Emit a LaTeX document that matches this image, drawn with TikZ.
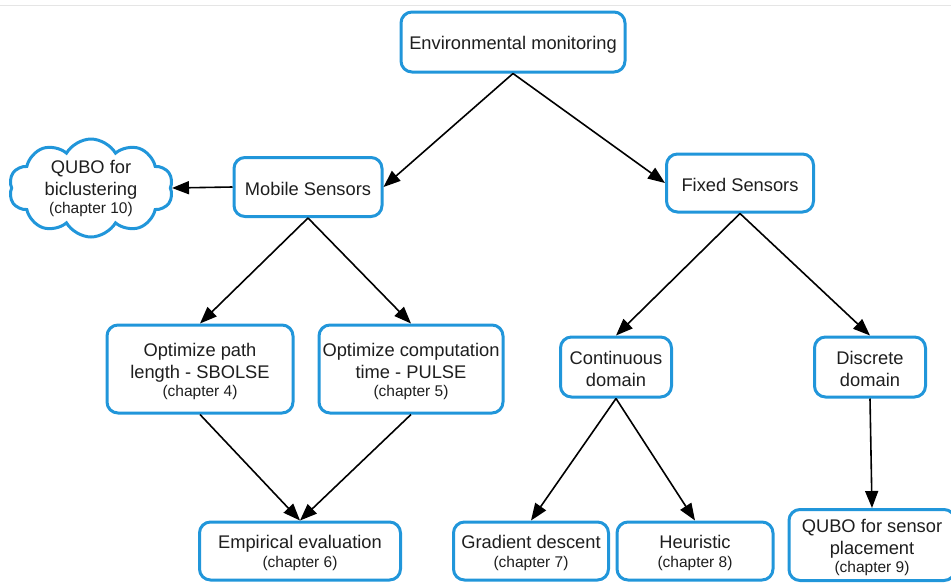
\documentclass[tikz,border=0pt]{standalone}
\usepackage{fontspec}
\setmainfont{Liberation Sans}
\usetikzlibrary{arrows.meta,shapes.symbols}
\definecolor{boxblue}{RGB}{33,150,218}
\definecolor{txt}{RGB}{30,30,30}
\newcommand{\chap}[1]{{\fontsize{15.5}{17}\selectfont #1}}
\newcommand{\tp}{\rule{0pt}{18pt}}
\tikzset{
  box/.style={draw=boxblue, line width=3pt, rounded corners=11pt, fill=white,
    align=center, text=txt, font=\fontsize{18.3}{22}\selectfont, inner sep=2pt},
  cloudbox/.style={cloud, draw=boxblue, line width=3pt, cloud puffs=10, cloud puff arc=120,
    cloud ignores aspect, inner sep=0pt},
  cloudtext/.style={align=center, text=txt, font=\fontsize{18.3}{22}\selectfont, inner sep=0pt},
  conn/.style={draw=black, line width=1.6pt, -{Triangle[length=17pt,width=13pt]}}
}
\begin{document}
\begin{tikzpicture}[x=1pt,y=-1pt]
\useasboundingbox (0,0) rectangle (951,582);
\begin{scope}
\clip (0,0) rectangle (951,582);
\draw[draw=black!10, line width=1pt] (0,5) -- (951,5);
\node[box, minimum width=224pt, minimum height=60pt] (env) at (513,42) {\tp Environmental monitoring};
\node[box, minimum width=148pt, minimum height=59pt] (mob) at (308,187) {\tp Mobile Sensors};
\node[box, minimum width=147pt, minimum height=58pt] (fix) at (740,183) {\tp Fixed Sensors};
\node[cloudbox, minimum width=164pt, minimum height=98pt] (cl) at (91,188) {};
\node[cloudtext] (clt) at (cl.center) {QUBO for\\biclustering\\[-4pt]\chap{(chapter 10)}};
\node[box, minimum width=186pt, minimum height=88pt] (op) at (200,369) {\tp Optimize path\\length - SBOLSE\\[-4pt]\chap{(chapter 4)}};
\node[box, minimum width=184pt, minimum height=88pt] (oc) at (411,369) {\tp Optimize computation\\time - PULSE\\[-4pt]\chap{(chapter 5)}};
\node[box, minimum width=111pt, minimum height=60pt] (cont) at (616,367) {\tp Continuous\\domain};
\node[box, minimum width=111pt, minimum height=60pt] (disc) at (870,367) {\tp Discrete\\domain};
\node[box, minimum width=201pt, minimum height=58pt] (emp) at (300,551) {\tp Empirical evaluation\\[-3pt]\chap{(chapter 6)}};
\node[box, minimum width=155pt, minimum height=58pt] (grad) at (531,551) {\tp Gradient descent\\[-3pt]\chap{(chapter 7)}};
\node[box, minimum width=156pt, minimum height=58pt] (heur) at (695,551) {\tp Heuristic\\[-3pt]\chap{(chapter 8)}};
\node[box, minimum width=166pt, minimum height=71pt] (qs) at (872,545) {\tp QUBO for sensor\\placement\\[-4pt]\chap{(chapter 9)}};
\end{scope}
\draw[conn] (env.south) -- (mob.east);
\draw[conn] (env.south) -- (fix.west);
\draw[conn] (mob.west) -- (cl.east);
\draw[conn] (mob.south) -- (op.north);
\draw[conn] (mob.south) -- (oc.north);
\draw[conn] (op.south) -- (emp.north);
\draw[conn] (oc.south) -- (emp.north);
\draw[conn] (fix.south) -- (cont.north);
\draw[conn] (fix.south) -- (disc.north);
\draw[conn] (cont.south) -- (grad.north);
\draw[conn] (cont.south) -- (heur.north);
\draw[conn] (disc.south) -- (qs.north);
\end{tikzpicture}
\end{document}
